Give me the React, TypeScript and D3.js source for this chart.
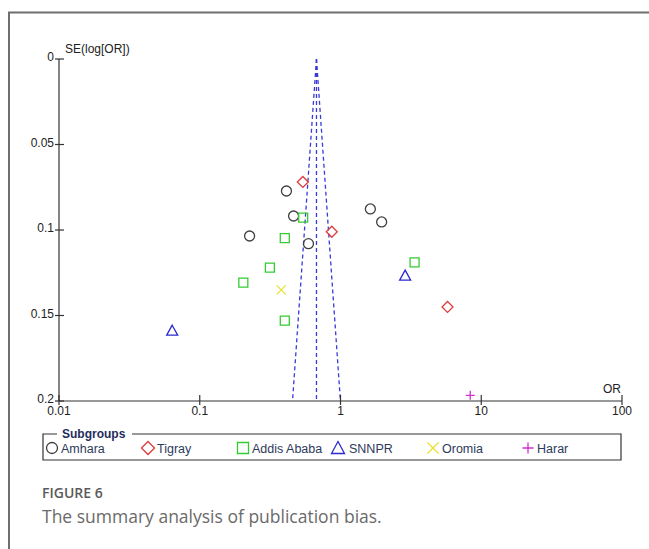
import React, { useEffect, useRef } from 'react';
import * as d3 from 'd3';

// study estimates: odds ratio and SE(log OR)
const amharaOR = [0.226, 0.413, 0.464, 0.592, 1.63, 1.96];
const amharaSE = [0.1035, 0.0772, 0.0918, 0.108, 0.0877, 0.0953];
const tigrayOR = [0.54, 0.867, 5.76];
const tigraySE = [0.0719, 0.101, 0.145];
const addisOR = [0.543, 0.402, 0.315, 0.204, 0.402, 3.36];
const addisSE = [0.0928, 0.1047, 0.122, 0.1308, 0.153, 0.1189];
const snnprOR = [0.0637, 2.88];
const snnprSE = [0.1589, 0.1267];
const oromiaOR = [0.379];
const oromiaSE = [0.135];
const hararOR = [8.35];
const hararSE = [0.1967];

const pooledOR = 0.675;
const xTicks = [0.01, 0.1, 1, 10, 100];
const yTicks = [0, 0.05, 0.1, 0.15, 0.2];

const groups = [
  { name: 'Amhara', shape: 'circle', color: '#404040', or: amharaOR, se: amharaSE },
  { name: 'Tigray', shape: 'diamond', color: '#e03a3a', or: tigrayOR, se: tigraySE },
  { name: 'Addis Ababa', shape: 'square', color: '#33cc33', or: addisOR, se: addisSE },
  { name: 'SNNPR', shape: 'triangle', color: '#2a2ad0', or: snnprOR, se: snnprSE },
  { name: 'Oromia', shape: 'cross', color: '#e8e030', or: oromiaOR, se: oromiaSE },
  { name: 'Harar', shape: 'plus', color: '#d030d0', or: hararOR, se: hararSE },
];

function markerPath(shape: string, s: number) {
  switch (shape) {
    case 'circle':
      return `M${-s},0A${s},${s} 0 1,0 ${s},0A${s},${s} 0 1,0 ${-s},0Z`;
    case 'diamond':
      return `M0,${-s - 1}L${s + 1},0L0,${s + 1}L${-s - 1},0Z`;
    case 'square':
      return `M${-s},${-s}H${s}V${s}H${-s}Z`;
    case 'triangle':
      return `M0,${-s - 1}L${s + 1},${s}L${-s - 1},${s}Z`;
    case 'cross':
      return `M${-s},${-s}L${s},${s}M${s},${-s}L${-s},${s}`;
    default:
      return `M${-s},0H${s}M0,${-s}V${s}`;
  }
}

export default function App() {
  const ref = useRef<SVGSVGElement>(null);

  useEffect(() => {
    const svg = d3.select(ref.current);
    svg.selectAll('*').remove();

    const x = d3.scaleLog().domain([0.01, 100]).range([59, 622]);
    const y = d3.scaleLinear().domain([0, 0.2]).range([59, 401]);
    const font = 'Liberation Sans, Arial, sans-serif';

    // card border
    svg.append('path')
      .attr('d', 'M9,549V12.5H649')
      .attr('fill', 'none')
      .attr('stroke', '#6e6e6e')
      .attr('stroke-width', 2);

    // funnel
    const f = svg.append('g')
      .attr('stroke', '#3a3ad8')
      .attr('stroke-width', 1.3)
      .attr('stroke-dasharray', '4,3')
      .attr('fill', 'none');
    const seMax = 0.2;
    const lo = pooledOR * Math.exp(-1.96 * seMax);
    const hi = pooledOR * Math.exp(1.96 * seMax);
    f.append('line').attr('x1', x(pooledOR)).attr('y1', y(0)).attr('x2', x(pooledOR)).attr('y2', y(seMax));
    f.append('line').attr('x1', x(pooledOR)).attr('y1', y(0)).attr('x2', x(lo)).attr('y2', y(seMax));
    f.append('line').attr('x1', x(pooledOR)).attr('y1', y(0)).attr('x2', x(hi)).attr('y2', y(seMax));

    // axes
    const ax = svg.append('g').attr('stroke', '#333').attr('stroke-width', 1.2);
    ax.append('line').attr('x1', x(0.01)).attr('x2', x(100)).attr('y1', y(0.2)).attr('y2', y(0.2));
    ax.append('line').attr('x1', x(0.01)).attr('x2', x(0.01)).attr('y1', y(0)).attr('y2', y(0.2));
    xTicks.forEach(t => {
      ax.append('line').attr('x1', x(t)).attr('x2', x(t)).attr('y1', y(0.2) - 6).attr('y2', y(0.2) + 4);
    });
    yTicks.forEach(t => {
      ax.append('line').attr('x1', x(0.01) - 4).attr('x2', x(0.01) + 5).attr('y1', y(t)).attr('y2', y(t));
    });

    const lab = svg.append('g').attr('font-family', font).attr('font-size', 12).attr('fill', '#222');
    xTicks.forEach(t => {
      lab.append('text').attr('x', x(t)).attr('y', y(0.2) + 14).attr('text-anchor', 'middle').text(String(t));
    });
    yTicks.forEach(t => {
      lab.append('text').attr('x', x(0.01) - 5).attr('y', y(t) + 2).attr('text-anchor', 'end').text(String(t));
    });
    lab.append('text').attr('x', x(0.01) + 6).attr('y', y(0) - 6).text('SE(log[OR])');
    lab.append('text').attr('x', x(100) - 1).attr('y', y(0.2) - 8).attr('text-anchor', 'end').text('OR');

    // points
    groups.forEach(g => {
      svg.append('g').selectAll('path')
        .data(g.or.map((v, i) => ({ or: v, se: g.se[i] })))
        .enter().append('path')
        .attr('transform', d => `translate(${x(d.or)},${y(d.se)})`)
        .attr('d', markerPath(g.shape, g.shape === 'circle' ? 5 : 4.5))
        .attr('fill', 'none')
        .attr('stroke', g.color)
        .attr('stroke-width', 1.3);
    });

    // legend
    const lx0 = 43, lx1 = 621, ly0 = 434, ly1 = 460;
    svg.append('path')
      .attr('d', `M57,${ly0}H${lx0}V${ly1}H${lx1}V${ly0}H132`)
      .attr('fill', 'none').attr('stroke', '#333').attr('stroke-width', 1.2);
    svg.append('text').attr('x', 62).attr('y', ly0 + 4)
      .attr('font-family', font).attr('font-size', 12).attr('font-weight', 'bold')
      .attr('fill', '#1f2d5c').text('Subgroups');
    const itemX = [52, 148, 243, 338, 433, 528];
    groups.forEach((g, i) => {
      const cx = itemX[i];
      svg.append('path')
        .attr('transform', `translate(${cx},448)`)
        .attr('d', markerPath(g.shape, 5.5))
        .attr('fill', 'none').attr('stroke', g.color).attr('stroke-width', 1.3);
      svg.append('text').attr('x', cx + (g.shape === 'triangle' ? 11 : 9)).attr('y', 452.5)
        .attr('font-family', font).attr('font-size', 12.5).attr('fill', '#2d3a5a').text(g.name);
    });

    // caption
    svg.append('text').attr('x', 42).attr('y', 498)
      .attr('font-family', 'Open Sans, sans-serif').attr('font-size', 14).attr('font-weight', 600)
      .attr('fill', '#5a5a5a').text('FIGURE 6');
    svg.append('text').attr('x', 42).attr('y', 523)
      .attr('font-family', 'Open Sans, sans-serif').attr('font-size', 17.5)
      .attr('fill', '#6a6a6a').text('The summary analysis of publication bias.');
  }, []);

  return (
    <svg ref={ref} width={649} height={549}
      style={{ position: 'absolute', left: 0, top: 0, background: '#fff' }} />
  );
}
